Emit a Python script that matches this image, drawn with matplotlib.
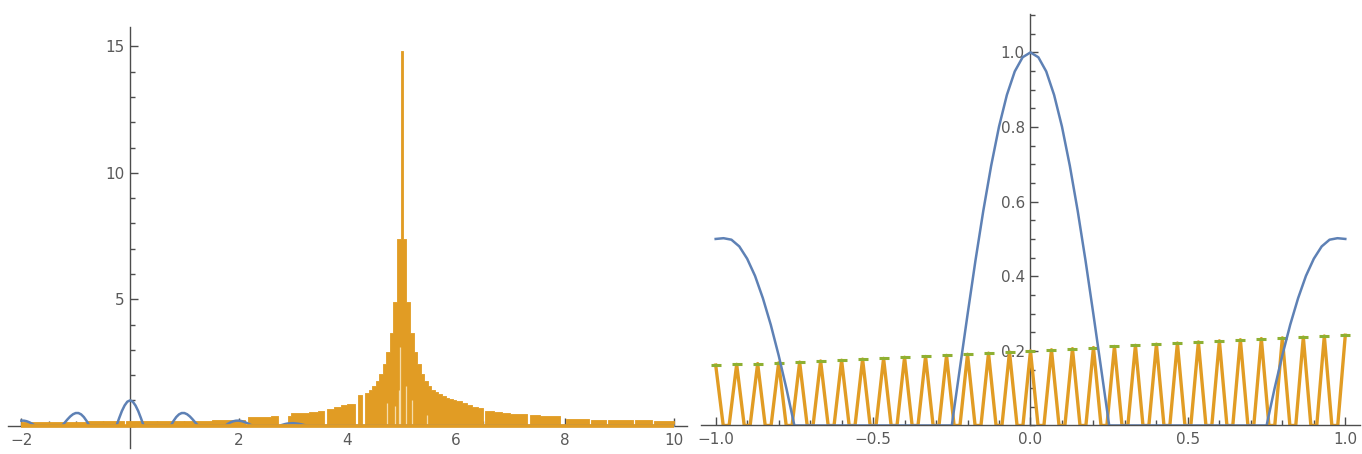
import matplotlib.pyplot as plt
import numpy as np
from matplotlib.ticker import MultipleLocator

# 色 (Mathematica 風)
BLUE = '#5e81b5'
ORANGE = '#e19c24'
GREEN = '#8fb032'
AXIS = '#4d4d4d'
LABEL = '#5a5a5a'

# ---- 左パネルのデータ ----
blue_left_x = [-2.0, -1.95, -1.9, -1.85, -1.8, -1.75,
               -1.25, -1.2, -1.15, -1.1, -1.05, -1.0, -0.95, -0.9, -0.85, -0.8, -0.75,
               -0.25, -0.2, -0.15, -0.1, -0.05, 0.0, 0.05, 0.1, 0.15, 0.2, 0.25,
               0.75, 0.8, 0.85, 0.9, 0.95, 1.0, 1.05, 1.1, 1.15, 1.2, 1.25,
               1.75, 1.8, 1.85, 1.9, 1.95, 2.0, 2.05, 2.1, 2.15, 2.2, 2.25,
               2.75, 2.85, 2.9, 3.0, 3.1, 3.15, 3.25, 10.0]
blue_left_y = [0.20, 0.198, 0.175, 0.133, 0.073, 0.0,
               0.0, 0.127, 0.253, 0.366, 0.452, 0.50, 0.50, 0.447, 0.341, 0.188, 0.0,
               0.0, 0.30, 0.58, 0.80, 0.95, 1.0, 0.95, 0.80, 0.58, 0.30, 0.0,
               0.0, 0.188, 0.341, 0.447, 0.50, 0.50, 0.452, 0.366, 0.253, 0.127, 0.0,
               0.0, 0.073, 0.133, 0.175, 0.198, 0.20, 0.183, 0.150, 0.105, 0.053, 0.0,
               0.0, 0.064, 0.086, 0.10, 0.076, 0.054, 0.0, 0.0]

# オレンジ: 階段状の包絡線 (区間の左端, 高さ)
orange_left_x = [-2.00, -1.60, -1.20, -0.80, -0.40, -0.12, -0.07, 0.30, 0.70, 1.10,
                 1.50, 1.85, 2.12, 2.17, 2.40, 2.60, 2.73, 2.90, 2.97, 3.15,
                 3.30, 3.45, 3.57, 3.62, 3.75, 3.88, 4.00, 4.13, 4.19, 4.27,
                 4.32, 4.39, 4.455, 4.52, 4.585, 4.65, 4.715, 4.78, 4.845, 4.915,
                 4.987, 5.013, 5.085, 5.155, 5.22, 5.285, 5.35, 5.415, 5.48, 5.545,
                 5.61, 5.675, 5.74, 5.805, 5.87, 5.935, 6.00, 6.10, 6.20, 6.30,
                 6.40, 6.50, 6.54, 6.70, 6.85, 7.00, 7.15, 7.30, 7.36, 7.55,
                 7.75, 7.92, 8.02, 8.20, 8.44, 8.48, 8.75, 8.79, 9.00, 9.25,
                 9.29, 9.60, 9.64, 10.00]
orange_left_y = [0.14, 0.15, 0.16, 0.17, 0.17, 0.0, 0.18, 0.18, 0.19, 0.20,
                 0.22, 0.24, 0.0, 0.33, 0.35, 0.37, 0.0, 0.40, 0.50, 0.52,
                 0.55, 0.58, 0.0, 0.66, 0.72, 0.80, 0.86, 0.0, 1.22, 0.0,
                 1.29, 1.42, 1.58, 1.78, 2.05, 2.42, 2.93, 3.68, 4.90, 7.40,
                 14.80, 7.40, 4.90, 3.68, 2.93, 2.42, 2.05, 1.78, 1.58, 1.42,
                 1.32, 1.24, 1.17, 1.11, 1.06, 1.01, 0.96, 0.90, 0.82, 0.75,
                 0.69, 0.0, 0.58, 0.55, 0.52, 0.48, 0.46, 0.0, 0.42, 0.40,
                 0.38, 0.0, 0.27, 0.26, 0.0, 0.24, 0.0, 0.23, 0.22, 0.0,
                 0.21, 0.0, 0.20, 0.20]

# スパイクの間に見える薄い線
light_x = [4.72, 4.88, 4.944, 4.97, 5.085, 5.19, 5.46]
light_y = [0.90, 0.76, 1.42, 3.10, 1.55, 1.00, 0.43]

# ---- 右パネルのデータ ----
blue_half_x = [0.0, 0.025, 0.05, 0.075, 0.1, 0.125, 0.15, 0.175, 0.2, 0.225, 0.25,
               0.75, 0.775, 0.8, 0.825, 0.85, 0.875, 0.9, 0.925, 0.95, 0.975, 1.0]
blue_half_y = [1.0, 0.987, 0.949, 0.886, 0.801, 0.696, 0.575, 0.441, 0.297, 0.149, 0.0,
               0.0, 0.098, 0.188, 0.270, 0.341, 0.401, 0.447, 0.480, 0.498, 0.502, 0.500]

# 三角波の頂点の高さ (緑の破線と一致)
tooth_y = [0.162, 0.164, 0.166, 0.168, 0.170, 0.173, 0.175, 0.178, 0.180, 0.183,
           0.185, 0.188, 0.191, 0.194, 0.197, 0.200, 0.203, 0.206, 0.209, 0.212,
           0.215, 0.218, 0.221, 0.224, 0.227, 0.230, 0.233, 0.235, 0.237, 0.240,
           0.242]

left_xticks = [-2, 2, 4, 6, 8, 10]
left_xlabels = ['\u22122', '2', '4', '6', '8', '10']
left_yticks = [5, 10, 15]
left_ylabels = ['5', '10', '15']
right_xticks = [-1.0, -0.5, 0.0, 0.5, 1.0]
right_xlabels = ['\u22121.0', '\u22120.5', '0.0', '0.5', '1.0']
right_yticks = [0.2, 0.4, 0.6, 0.8, 1.0]
right_ylabels = ['0.2', '0.4', '0.6', '0.8', '1.0']


def style_axes(ax):
    for s in ['top', 'right']:
        ax.spines[s].set_visible(False)
    for s in ['left', 'bottom']:
        ax.spines[s].set_position(('data', 0))
        ax.spines[s].set_color(AXIS)
        ax.spines[s].set_linewidth(1.0)
    ax.patch.set_visible(False)
    ax.tick_params(which='both', direction='in', color=AXIS, width=1.0,
                   labelcolor=LABEL, labelsize=11)
    ax.tick_params(which='major', length=6)
    ax.tick_params(which='minor', length=3.5)
    ax.tick_params(axis='x', pad=5)
    ax.tick_params(axis='y', pad=4)


fig = plt.figure(figsize=(13.62, 4.54), dpi=100)

# 左パネル
ax1 = fig.add_axes([0.0061, 0.0128, 0.498, 0.9284])
style_axes(ax1)
ax1.fill_between(orange_left_x, 0, orange_left_y, step='post', color=ORANGE,
                 lw=0.6, zorder=3)
ax1.vlines(light_x, 0, light_y, color='#f6dcaa', lw=0.9, zorder=3.5)
ax1.plot(blue_left_x, blue_left_y, color=BLUE, lw=1.8, zorder=4)
# 0 付近の太いオレンジ線 (青の 0 区間を隠す)
ax1.plot([orange_left_x[0], orange_left_x[-1]], [0, 0], color=ORANGE, lw=2.6,
         solid_capstyle='butt', zorder=4.5)
ax1.set_xlim(-2.24, 10.24)
ax1.set_ylim(-0.89, 15.78)
ax1.set_xticks(left_xticks, labels=left_xlabels)
ax1.set_yticks(left_yticks, labels=left_ylabels)
ax1.xaxis.set_minor_locator(MultipleLocator(0.5))
ax1.yaxis.set_minor_locator(MultipleLocator(1))

# 右パネル
ax2 = fig.add_axes([0.5146, 0.0628, 0.4840, 0.9064])
style_axes(ax2)
ax2.spines['bottom'].set_zorder(6)
peaks = np.linspace(-1, 1, len(tooth_y))
hw = 0.024
tx, ty = [], []
for p, h in zip(peaks, tooth_y):
    tx += [p - hw, p, p + hw]
    ty += [0.0, h, 0.0]
tx = np.array(tx)
ty = np.array(ty)
keep = (tx >= -1) & (tx <= 1)
ax2.plot(tx[keep], ty[keep], color=ORANGE, lw=2.4, zorder=3)
ax2.plot(peaks, tooth_y, ls='none', marker='_', ms=6.5, mew=2.2, color=GREEN, zorder=4)

bx = [-v for v in blue_half_x[::-1]] + blue_half_x[1:]
by = blue_half_y[::-1] + blue_half_y[1:]
ax2.plot(bx, by, color=BLUE, lw=1.8, zorder=5)
ax2.set_xlim(-1.047, 1.047)
ax2.set_ylim(0.0, 1.103)
ax2.set_xticks(right_xticks, labels=right_xlabels)
ax2.set_yticks(right_yticks, labels=right_ylabels)
ax2.xaxis.set_minor_locator(MultipleLocator(0.1))
ax2.yaxis.set_minor_locator(MultipleLocator(0.05))

plt.savefig('out.png', dpi=100)
